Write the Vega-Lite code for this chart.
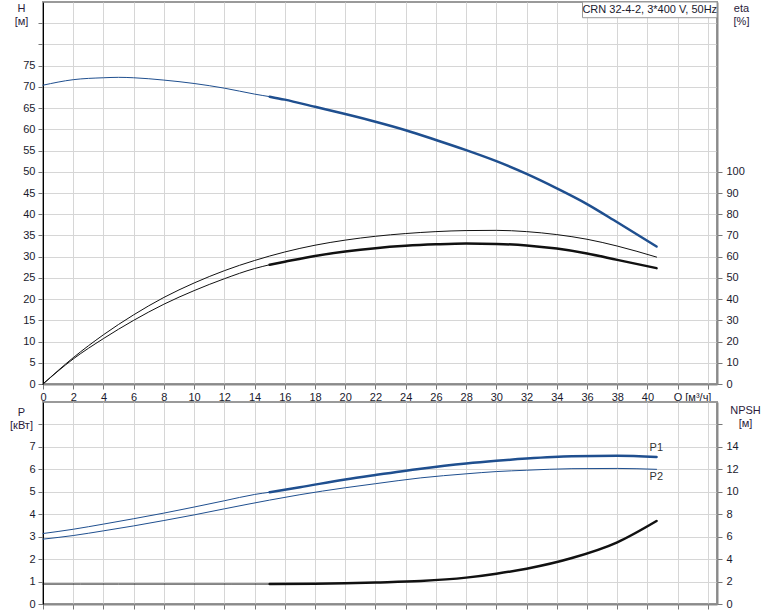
{
  "$schema": "https://vega.github.io/schema/vega-lite/v6.json",
  "background": "white",
  "padding": {"left": 8, "top": 0, "right": 0, "bottom": 0},
  "bounds": "flush",
  "spacing": 18,
  "config": {
    "font": "Liberation Sans",
    "view": {"stroke": "#9a9a9a", "strokeWidth": 2},
    "axis": {
      "labelFont": "Liberation Sans", "labelFontSize": 11, "labelColor": "#1a1a2e",
      "titleFont": "Liberation Sans", "titleFontSize": 11, "titleFontWeight": "normal", "titleColor": "#2a1a3a",
      "gridColor": "#d6d6d6", "gridWidth": 1, "tickColor": "#777", "tickSize": 5, "labelPadding": 3,
      "domainColor": "#8a8a8a", "domainWidth": 2
    },
    "text": {"font": "Liberation Sans"}
  },
  "datasets": {
    "curves": [
      {"curve": "H", "part": "thin", "Q": 0, "value": 70.4},
      {"curve": "H", "part": "thin", "Q": 2, "value": 71.7},
      {"curve": "H", "part": "thin", "Q": 4, "value": 72.15},
      {"curve": "H", "part": "thin", "Q": 5, "value": 72.25},
      {"curve": "H", "part": "thin", "Q": 6, "value": 72.15},
      {"curve": "H", "part": "thin", "Q": 8, "value": 71.6},
      {"curve": "H", "part": "thin", "Q": 10, "value": 70.8},
      {"curve": "H", "part": "thin", "Q": 12, "value": 69.7},
      {"curve": "H", "part": "thin", "Q": 14, "value": 68.3},
      {"curve": "H", "part": "thin", "Q": 15, "value": 67.7},
      {"curve": "H", "part": "thick", "Q": 15, "value": 67.7},
      {"curve": "H", "part": "thick", "Q": 16, "value": 67.0},
      {"curve": "H", "part": "thick", "Q": 18, "value": 65.3},
      {"curve": "H", "part": "thick", "Q": 20, "value": 63.6},
      {"curve": "H", "part": "thick", "Q": 22, "value": 61.8},
      {"curve": "H", "part": "thick", "Q": 24, "value": 59.8},
      {"curve": "H", "part": "thick", "Q": 26, "value": 57.5},
      {"curve": "H", "part": "thick", "Q": 28, "value": 55.1},
      {"curve": "H", "part": "thick", "Q": 30, "value": 52.5},
      {"curve": "H", "part": "thick", "Q": 32, "value": 49.5},
      {"curve": "H", "part": "thick", "Q": 34, "value": 46.1},
      {"curve": "H", "part": "thick", "Q": 36, "value": 42.4},
      {"curve": "H", "part": "thick", "Q": 38, "value": 38.1},
      {"curve": "H", "part": "thick", "Q": 40.6, "value": 32.4},

      {"curve": "eta1", "part": "thin", "Q": 0, "value": 0},
      {"curve": "eta1", "part": "thin", "Q": 2, "value": 12.4},
      {"curve": "eta1", "part": "thin", "Q": 4, "value": 23.2},
      {"curve": "eta1", "part": "thin", "Q": 6, "value": 32.6},
      {"curve": "eta1", "part": "thin", "Q": 8, "value": 40.8},
      {"curve": "eta1", "part": "thin", "Q": 10, "value": 47.6},
      {"curve": "eta1", "part": "thin", "Q": 12, "value": 53.4},
      {"curve": "eta1", "part": "thin", "Q": 14, "value": 58.2},
      {"curve": "eta1", "part": "thin", "Q": 16, "value": 62.2},
      {"curve": "eta1", "part": "thin", "Q": 18, "value": 65.4},
      {"curve": "eta1", "part": "thin", "Q": 20, "value": 67.8},
      {"curve": "eta1", "part": "thin", "Q": 22, "value": 69.6},
      {"curve": "eta1", "part": "thin", "Q": 24, "value": 70.9},
      {"curve": "eta1", "part": "thin", "Q": 26, "value": 71.8},
      {"curve": "eta1", "part": "thin", "Q": 28, "value": 72.3},
      {"curve": "eta1", "part": "thin", "Q": 30, "value": 72.4},
      {"curve": "eta1", "part": "thin", "Q": 32, "value": 71.8},
      {"curve": "eta1", "part": "thin", "Q": 34, "value": 70.4},
      {"curve": "eta1", "part": "thin", "Q": 36, "value": 68.2},
      {"curve": "eta1", "part": "thin", "Q": 38, "value": 65.0},
      {"curve": "eta1", "part": "thin", "Q": 40.6, "value": 59.8},

      {"curve": "eta2", "part": "thin", "Q": 0, "value": 0},
      {"curve": "eta2", "part": "thin", "Q": 2, "value": 11.8},
      {"curve": "eta2", "part": "thin", "Q": 4, "value": 21.4},
      {"curve": "eta2", "part": "thin", "Q": 6, "value": 30.0},
      {"curve": "eta2", "part": "thin", "Q": 8, "value": 37.6},
      {"curve": "eta2", "part": "thin", "Q": 10, "value": 44.0},
      {"curve": "eta2", "part": "thin", "Q": 12, "value": 49.6},
      {"curve": "eta2", "part": "thin", "Q": 14, "value": 54.4},
      {"curve": "eta2", "part": "thin", "Q": 15, "value": 56.2},
      {"curve": "eta2", "part": "thick", "Q": 15, "value": 56.2},
      {"curve": "eta2", "part": "thick", "Q": 16, "value": 57.6},
      {"curve": "eta2", "part": "thick", "Q": 18, "value": 60.3},
      {"curve": "eta2", "part": "thick", "Q": 20, "value": 62.4},
      {"curve": "eta2", "part": "thick", "Q": 22, "value": 64.0},
      {"curve": "eta2", "part": "thick", "Q": 24, "value": 65.1},
      {"curve": "eta2", "part": "thick", "Q": 26, "value": 65.8},
      {"curve": "eta2", "part": "thick", "Q": 28, "value": 66.2},
      {"curve": "eta2", "part": "thick", "Q": 30, "value": 66.0},
      {"curve": "eta2", "part": "thick", "Q": 32, "value": 65.3},
      {"curve": "eta2", "part": "thick", "Q": 34, "value": 63.8},
      {"curve": "eta2", "part": "thick", "Q": 36, "value": 61.5},
      {"curve": "eta2", "part": "thick", "Q": 38, "value": 58.5},
      {"curve": "eta2", "part": "thick", "Q": 40.6, "value": 54.6},

      {"curve": "P1", "part": "thin", "Q": 0, "value": 3.14},
      {"curve": "P1", "part": "thin", "Q": 2, "value": 3.33},
      {"curve": "P1", "part": "thin", "Q": 4, "value": 3.56},
      {"curve": "P1", "part": "thin", "Q": 6, "value": 3.8},
      {"curve": "P1", "part": "thin", "Q": 8, "value": 4.05},
      {"curve": "P1", "part": "thin", "Q": 10, "value": 4.32},
      {"curve": "P1", "part": "thin", "Q": 12, "value": 4.6},
      {"curve": "P1", "part": "thin", "Q": 14, "value": 4.88},
      {"curve": "P1", "part": "thin", "Q": 15, "value": 4.98},
      {"curve": "P1", "part": "thick", "Q": 15, "value": 4.98},
      {"curve": "P1", "part": "thick", "Q": 17, "value": 5.2},
      {"curve": "P1", "part": "thick", "Q": 20, "value": 5.55},
      {"curve": "P1", "part": "thick", "Q": 22, "value": 5.75},
      {"curve": "P1", "part": "thick", "Q": 25, "value": 6.03},
      {"curve": "P1", "part": "thick", "Q": 28, "value": 6.26},
      {"curve": "P1", "part": "thick", "Q": 30, "value": 6.38},
      {"curve": "P1", "part": "thick", "Q": 32, "value": 6.48},
      {"curve": "P1", "part": "thick", "Q": 35, "value": 6.58},
      {"curve": "P1", "part": "thick", "Q": 38, "value": 6.6},
      {"curve": "P1", "part": "thick", "Q": 40.6, "value": 6.55},

      {"curve": "P2", "part": "thin", "Q": 0, "value": 2.89},
      {"curve": "P2", "part": "thin", "Q": 2, "value": 3.05},
      {"curve": "P2", "part": "thin", "Q": 4, "value": 3.26},
      {"curve": "P2", "part": "thin", "Q": 6, "value": 3.48},
      {"curve": "P2", "part": "thin", "Q": 8, "value": 3.72},
      {"curve": "P2", "part": "thin", "Q": 10, "value": 3.97},
      {"curve": "P2", "part": "thin", "Q": 12, "value": 4.24},
      {"curve": "P2", "part": "thin", "Q": 15, "value": 4.63},
      {"curve": "P2", "part": "thin", "Q": 17, "value": 4.87},
      {"curve": "P2", "part": "thin", "Q": 20, "value": 5.18},
      {"curve": "P2", "part": "thin", "Q": 22, "value": 5.36},
      {"curve": "P2", "part": "thin", "Q": 25, "value": 5.62},
      {"curve": "P2", "part": "thin", "Q": 28, "value": 5.8},
      {"curve": "P2", "part": "thin", "Q": 30, "value": 5.9},
      {"curve": "P2", "part": "thin", "Q": 32, "value": 5.96},
      {"curve": "P2", "part": "thin", "Q": 35, "value": 6.03},
      {"curve": "P2", "part": "thin", "Q": 38, "value": 6.04},
      {"curve": "P2", "part": "thin", "Q": 40.6, "value": 6.0},

      {"curve": "NPSH", "part": "thin", "Q": 0, "value": 1.78},
      {"curve": "NPSH", "part": "thin", "Q": 5, "value": 1.78},
      {"curve": "NPSH", "part": "thin", "Q": 10, "value": 1.78},
      {"curve": "NPSH", "part": "thin", "Q": 15, "value": 1.78},
      {"curve": "NPSH", "part": "thick", "Q": 15, "value": 1.78},
      {"curve": "NPSH", "part": "thick", "Q": 18, "value": 1.8},
      {"curve": "NPSH", "part": "thick", "Q": 20, "value": 1.85},
      {"curve": "NPSH", "part": "thick", "Q": 22, "value": 1.92},
      {"curve": "NPSH", "part": "thick", "Q": 25, "value": 2.05},
      {"curve": "NPSH", "part": "thick", "Q": 28, "value": 2.35},
      {"curve": "NPSH", "part": "thick", "Q": 30, "value": 2.7},
      {"curve": "NPSH", "part": "thick", "Q": 32, "value": 3.15},
      {"curve": "NPSH", "part": "thick", "Q": 35, "value": 4.1},
      {"curve": "NPSH", "part": "thick", "Q": 38, "value": 5.5},
      {"curve": "NPSH", "part": "thick", "Q": 40.6, "value": 7.4}
    ]
  },
  "vconcat": [
    {
      "width": 674,
      "height": 382,
      "layer": [
        {
          "layer": [
            {
              "data": {"name": "curves"},
              "transform": [{"filter": "datum.curve == 'H'"}],
              "mark": {"type": "line", "interpolate": "monotone", "color": "#1f4f8f", "strokeCap": "round"},
              "encoding": {
                "x": {
                  "field": "Q", "type": "quantitative",
                  "scale": {"domain": [0, 44.6], "nice": false, "zero": true},
                  "axis": {
                    "orient": "bottom", "title": null, "grid": true,
                    "values": [0, 2, 4, 6, 8, 10, 12, 14, 16, 18, 20, 22, 24, 26, 28, 30, 32, 34, 36, 38, 40, 42, 44],
                    "labelExpr": "datum.value == 44 ? 'Q [м³/ч]' : (datum.value <= 40 ? datum.label : '')",
                    "labelAlign": {"condition": {"test": "datum.value == 44", "value": "right"}, "value": "center"},
                    "labelOffset": {"condition": {"test": "datum.value == 44", "value": 3}, "value": 0},
                    "labelFlush": false, "labelOverlap": false, "labelPadding": 2
                  }
                },
                "y": {
                  "field": "value", "type": "quantitative",
                  "scale": {"domain": [0, 90], "nice": false},
                  "axis": {
                    "orient": "left", "grid": true,
                    "values": [0, 5, 10, 15, 20, 25, 30, 35, 40, 45, 50, 55, 60, 65, 70, 75, 80, 85],
                    "labelExpr": "datum.value <= 75 ? datum.label : ''",
                    "labelOverlap": false,
                    "domainColor": "#000", "domainWidth": 1,
                    "title": ["H", "[м]"], "titleAngle": 0, "titleAlign": "center", "titleBaseline": "top",
                    "titleX": -22, "titleY": 0
                  }
                },
                "detail": {"field": "part"},
                "strokeWidth": {"field": "part", "type": "nominal", "scale": {"domain": ["thin", "thick"], "range": [1, 2.5]}, "legend": null}
              }
            },
            {
              "data": {"values": [{"label": "CRN 32-4-2, 3*400 V, 50Hz"}]},
              "mark": {"type": "rect", "fill": "white", "stroke": "#9a9a9a", "strokeWidth": 1},
              "encoding": {
                "x": {
                  "datum": 35.7, "type": "quantitative",
                  "axis": {
                    "orient": "bottom", "title": null, "grid": true,
                    "values": [0, 2, 4, 6, 8, 10, 12, 14, 16, 18, 20, 22, 24, 26, 28, 30, 32, 34, 36, 38, 40, 42, 44],
                    "labelExpr": "datum.value == 44 ? 'Q [м³/ч]' : (datum.value <= 40 ? datum.label : '')",
                    "labelAlign": {"condition": {"test": "datum.value == 44", "value": "right"}, "value": "center"},
                    "labelOffset": {"condition": {"test": "datum.value == 44", "value": 3}, "value": 0},
                    "labelFlush": false, "labelOverlap": false, "labelPadding": 2
                  }
                },
                "x2": {"datum": 44.6},
                "y": {
                  "datum": 86.3, "type": "quantitative",
                  "axis": {
                    "orient": "left", "grid": true,
                    "values": [0, 5, 10, 15, 20, 25, 30, 35, 40, 45, 50, 55, 60, 65, 70, 75, 80, 85],
                    "labelExpr": "datum.value <= 75 ? datum.label : ''",
                    "labelOverlap": false,
                    "domainColor": "#000", "domainWidth": 1,
                    "title": ["H", "[м]"], "titleAngle": 0, "titleAlign": "center", "titleBaseline": "top",
                    "titleX": -22, "titleY": 0
                  }
                },
                "y2": {"datum": 90}
              }
            },
            {
              "data": {"values": [{"label": "CRN 32-4-2, 3*400 V, 50Hz"}]},
              "mark": {"type": "text", "fontSize": 11, "color": "#1a1a2e", "align": "center", "baseline": "middle"},
              "encoding": {
                "x": {
                  "datum": 40.15, "type": "quantitative",
                  "axis": {
                    "orient": "bottom", "title": null, "grid": true,
                    "values": [0, 2, 4, 6, 8, 10, 12, 14, 16, 18, 20, 22, 24, 26, 28, 30, 32, 34, 36, 38, 40, 42, 44],
                    "labelExpr": "datum.value == 44 ? 'Q [м³/ч]' : (datum.value <= 40 ? datum.label : '')",
                    "labelAlign": {"condition": {"test": "datum.value == 44", "value": "right"}, "value": "center"},
                    "labelOffset": {"condition": {"test": "datum.value == 44", "value": 3}, "value": 0},
                    "labelFlush": false, "labelOverlap": false, "labelPadding": 2
                  }
                },
                "y": {
                  "datum": 88.2, "type": "quantitative",
                  "axis": {
                    "orient": "left", "grid": true,
                    "values": [0, 5, 10, 15, 20, 25, 30, 35, 40, 45, 50, 55, 60, 65, 70, 75, 80, 85],
                    "labelExpr": "datum.value <= 75 ? datum.label : ''",
                    "labelOverlap": false,
                    "domainColor": "#000", "domainWidth": 1,
                    "title": ["H", "[м]"], "titleAngle": 0, "titleAlign": "center", "titleBaseline": "top",
                    "titleX": -22, "titleY": 0
                  }
                },
                "text": {"field": "label"}
              }
            }
          ]
        },
        {
          "data": {"name": "curves"},
          "transform": [{"filter": "datum.curve == 'eta1' || datum.curve == 'eta2'"}],
          "mark": {"type": "line", "interpolate": "monotone", "color": "#111111", "strokeCap": "round"},
          "encoding": {
            "x": {
              "field": "Q", "type": "quantitative",
              "axis": {
                "orient": "bottom", "title": null, "grid": true,
                "values": [0, 2, 4, 6, 8, 10, 12, 14, 16, 18, 20, 22, 24, 26, 28, 30, 32, 34, 36, 38, 40, 42, 44],
                "labelExpr": "datum.value == 44 ? 'Q [м³/ч]' : (datum.value <= 40 ? datum.label : '')",
                "labelAlign": {"condition": {"test": "datum.value == 44", "value": "right"}, "value": "center"},
                "labelOffset": {"condition": {"test": "datum.value == 44", "value": 3}, "value": 0},
                "labelFlush": false, "labelOverlap": false, "labelPadding": 2
              }
            },
            "y": {
              "field": "value", "type": "quantitative",
              "scale": {"domain": [0, 180], "nice": false},
              "axis": {
                "orient": "right", "grid": false,
                "values": [0, 10, 20, 30, 40, 50, 60, 70, 80, 90, 100],
                "labelPadding": 4,
                "title": ["eta", "[%]"], "titleAngle": 0, "titleAlign": "center", "titleBaseline": "top",
                "titleX": 24, "titleY": 0
              }
            },
            "detail": [{"field": "curve"}, {"field": "part"}],
            "strokeWidth": {"field": "part", "type": "nominal", "scale": {"domain": ["thin", "thick"], "range": [1, 2.5]}, "legend": null}
          }
        }
      ],
      "resolve": {"scale": {"y": "independent", "strokeWidth": "independent"}}
    },
    {
      "width": 674,
      "height": 202,
      "layer": [
        {
          "layer": [
            {
              "data": {"name": "curves"},
              "transform": [{"filter": "datum.curve == 'P1' || datum.curve == 'P2'"}],
              "mark": {"type": "line", "interpolate": "monotone", "color": "#1f4f8f", "strokeCap": "round"},
              "encoding": {
                "x": {
                  "field": "Q", "type": "quantitative",
                  "scale": {"domain": [0, 44.6], "nice": false, "zero": true},
                  "axis": {
                    "orient": "bottom", "title": null, "grid": true, "labels": false,
                    "values": [0, 2, 4, 6, 8, 10, 12, 14, 16, 18, 20, 22, 24, 26, 28, 30, 32, 34, 36, 38, 40, 42, 44]
                  }
                },
                "y": {
                  "field": "value", "type": "quantitative",
                  "scale": {"domain": [0, 9], "nice": false},
                  "axis": {
                    "orient": "left", "grid": true,
                    "values": [0, 1, 2, 3, 4, 5, 6, 7, 8],
                    "labelExpr": "datum.value <= 7 ? datum.label : ''",
                    "labelOverlap": false,
                    "domainColor": "#000", "domainWidth": 1,
                    "title": ["P", "[кВт]"], "titleAngle": 0, "titleAlign": "center", "titleBaseline": "top",
                    "titleX": -22, "titleY": 4
                  }
                },
                "detail": [{"field": "curve"}, {"field": "part"}],
                "strokeWidth": {"field": "part", "type": "nominal", "scale": {"domain": ["thin", "thick"], "range": [1, 2.5]}, "legend": null}
              }
            },
            {
              "data": {"name": "curves"},
              "transform": [{"filter": "datum.curve == 'P1' && datum.Q == 40.6"}],
              "mark": {"type": "text", "fontSize": 11, "color": "#333333", "align": "left", "baseline": "middle", "dx": -7, "dy": -9},
              "encoding": {
                "x": {
                  "field": "Q", "type": "quantitative",
                  "axis": {
                    "orient": "bottom", "title": null, "grid": true, "labels": false,
                    "values": [0, 2, 4, 6, 8, 10, 12, 14, 16, 18, 20, 22, 24, 26, 28, 30, 32, 34, 36, 38, 40, 42, 44]
                  }
                },
                "y": {
                  "field": "value", "type": "quantitative",
                  "axis": {
                    "orient": "left", "grid": true,
                    "values": [0, 1, 2, 3, 4, 5, 6, 7, 8],
                    "labelExpr": "datum.value <= 7 ? datum.label : ''",
                    "labelOverlap": false,
                    "domainColor": "#000", "domainWidth": 1,
                    "title": ["P", "[кВт]"], "titleAngle": 0, "titleAlign": "center", "titleBaseline": "top",
                    "titleX": -22, "titleY": 4
                  }
                },
                "text": {"field": "curve"}
              }
            },
            {
              "data": {"name": "curves"},
              "transform": [{"filter": "datum.curve == 'P2' && datum.Q == 40.6"}],
              "mark": {"type": "text", "fontSize": 11, "color": "#333333", "align": "left", "baseline": "middle", "dx": -7, "dy": 8},
              "encoding": {
                "x": {
                  "field": "Q", "type": "quantitative",
                  "axis": {
                    "orient": "bottom", "title": null, "grid": true, "labels": false,
                    "values": [0, 2, 4, 6, 8, 10, 12, 14, 16, 18, 20, 22, 24, 26, 28, 30, 32, 34, 36, 38, 40, 42, 44]
                  }
                },
                "y": {
                  "field": "value", "type": "quantitative",
                  "axis": {
                    "orient": "left", "grid": true,
                    "values": [0, 1, 2, 3, 4, 5, 6, 7, 8],
                    "labelExpr": "datum.value <= 7 ? datum.label : ''",
                    "labelOverlap": false,
                    "domainColor": "#000", "domainWidth": 1,
                    "title": ["P", "[кВт]"], "titleAngle": 0, "titleAlign": "center", "titleBaseline": "top",
                    "titleX": -22, "titleY": 4
                  }
                },
                "text": {"field": "curve"}
              }
            }
          ]
        },
        {
          "data": {"name": "curves"},
          "transform": [{"filter": "datum.curve == 'NPSH'"}],
          "mark": {"type": "line", "interpolate": "monotone", "color": "#111111", "strokeCap": "round"},
          "encoding": {
            "x": {
              "field": "Q", "type": "quantitative",
              "axis": {
                "orient": "bottom", "title": null, "grid": true, "labels": false,
                "values": [0, 2, 4, 6, 8, 10, 12, 14, 16, 18, 20, 22, 24, 26, 28, 30, 32, 34, 36, 38, 40, 42, 44]
              }
            },
            "y": {
              "field": "value", "type": "quantitative",
              "scale": {"domain": [0, 18], "nice": false},
              "axis": {
                "orient": "right", "grid": false,
                "values": [0, 2, 4, 6, 8, 10, 12, 14, 16],
                "labelExpr": "datum.value <= 14 ? datum.label : ''",
                "labelOverlap": false,
                "labelPadding": 4,
                "title": ["NPSH", "[м]"], "titleAngle": 0, "titleAlign": "center", "titleBaseline": "top",
                "titleX": 28, "titleY": 2
              }
            },
            "detail": {"field": "part"},
            "strokeWidth": {"field": "part", "type": "nominal", "scale": {"domain": ["thin", "thick"], "range": [1, 2.5]}, "legend": null}
          }
        }
      ],
      "resolve": {"scale": {"y": "independent", "strokeWidth": "independent"}}
    }
  ]
}
